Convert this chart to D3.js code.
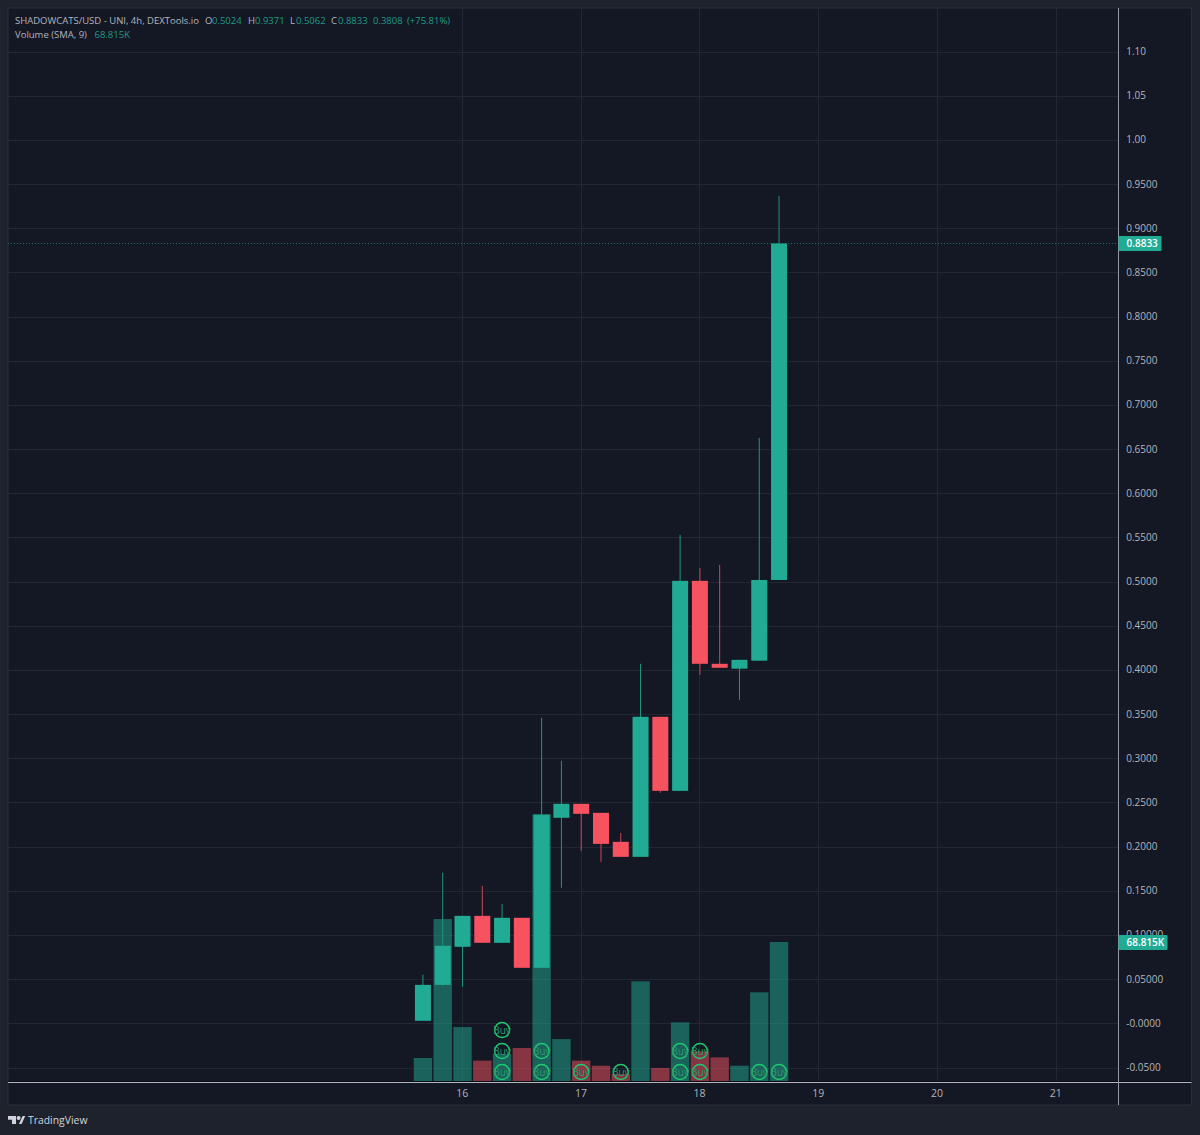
<!DOCTYPE html>
<html><head><meta charset="utf-8">
<script src="https://cdn.jsdelivr.net/npm/d3@7"></script>
<style>html,body{margin:0;padding:0;background:#1e222d}svg{display:block}text{font-family:"Open Sans",sans-serif}</style>
</head><body><svg id="c" width="1200" height="1135"></svg>
<script>
const candleTimes=["15 16:00","15 20:00","16 00:00","16 04:00","16 08:00","16 12:00","16 16:00","16 20:00","17 00:00","17 04:00","17 08:00","17 12:00","17 16:00","17 20:00","18 00:00","18 04:00","18 08:00","18 12:00","18 16:00"];
const opens =[.0034,.0441,.0872,.1222,.0917,.1200,.0634,.2332,.2490,.2388,.2060,.1890,.3475,.2637,.5014,.4075,.4020,.4110,.5024];
const highs =[.0555,.1710,.1222,.1562,.1358,.1200,.3463,.2977,.2490,.2388,.2160,.4075,.3475,.5535,.5160,.5195,.4120,.6633,.9371];
const lows  =[.0034,.0430,.0419,.0917,.0917,.0634,.0634,.1540,.1958,.1834,.1890,.1890,.2615,.2637,.3950,.4030,.3667,.4110,.5024];
const closes=[.0441,.0883,.1222,.0917,.1200,.0634,.2366,.2490,.2377,.2037,.1890,.3475,.2637,.5014,.4075,.4030,.4120,.5024,.8833];
const volumes=[11.8,80.1,27.0,10.5,13.8,16.7,131.7,21.1,10.5,8.0,3.9,49.5,6.9,29.3,15.1,12.1,8.0,44.1,68.815];
const volumeUp=[1,1,1,0,1,0,1,1,0,0,0,1,0,1,0,0,1,1,1];
const buyCounts=[0,0,0,0,3,0,2,0,1,0,1,0,0,2,2,0,0,1,1];
const priceTicks=[1.10,1.05,1.00,.95,.90,.85,.80,.75,.70,.65,.60,.55,.50,.45,.40,.35,.30,.25,.20,.15,.10,.05,0,-.05];
const priceLabels=["1.10","1.05","1.00","0.9500","0.9000","0.8500","0.8000","0.7500","0.7000","0.6500","0.6000","0.5500","0.5000","0.4500","0.4000","0.3500","0.3000","0.2500","0.2000","0.1500","0.10000","0.05000","-0.0000","-0.0500"];
const dayTicks=[16,17,18,19,20,21];
const lastPrice=0.8833, lastVolume=68.815;
const headerTop=["SHADOWCATS/USD - UNI, 4h, DEXTools.io","O","0.5024","H","0.9371","L","0.5062","C","0.8833","0.3808","(+75.81%)"];
const headerTopValue=[0,0,1,0,1,0,1,0,1,1,1];

const UP="#22ab94",DOWN="#f7525f",UPW="#1f957f",DOWNW="#c9485a";
const svg=d3.select("#c");
const L=8,T=8,R=1191.5,B=1105,AX=1118.5,AY=1082.5;
const x=d3.scaleLinear().domain([16,21]).range([462.5,1056]);
const y=d3.scaleLinear().domain([-.05,1.10]).range([1068,52]);
const v=d3.scaleLinear().domain([0,lastVolume]).range([1082,942]);
const t=s=>{const [d,h]=s.split(" ");return +d+parseInt(h)/24;};
const crisp=p=>Math.floor(p)+.5;

svg.append("rect").attr("width",1200).attr("height",1135).attr("fill","#1e222d");
svg.append("rect").attr("x",L).attr("y",T).attr("width",R-L).attr("height",B-T).attr("fill","#141824").attr("stroke","#2a2e39");

// grid
const grid=svg.append("g").attr("stroke","#232732").attr("stroke-width",1).attr("shape-rendering","crispEdges");
grid.selectAll("line.h").data(priceTicks).join("line").attr("class","h").attr("x1",L).attr("x2",AX).attr("y1",d=>crisp(y(d))).attr("y2",d=>crisp(y(d)));
grid.selectAll("line.v").data(dayTicks).join("line").attr("class","v").attr("y1",T).attr("y2",AY).attr("x1",d=>crisp(x(d))).attr("x2",d=>crisp(x(d)));

// volume
const bw=18.4;
svg.append("g").selectAll("rect").data(volumes).join("rect")
 .attr("x",(d,i)=>x(t(candleTimes[i]))-bw/2).attr("width",bw)
 .attr("y",d=>v(d)).attr("height",d=>v(0)-v(d))
 .attr("fill",(d,i)=>volumeUp[i]?UP:DOWN).attr("fill-opacity",.5);

// dotted last price
svg.append("line").attr("x1",L).attr("x2",AX).attr("y1",crisp(y(lastPrice))).attr("y2",crisp(y(lastPrice)))
 .attr("stroke",UP).attr("stroke-dasharray","1 2").attr("opacity",.6);

// candles
const cw=16;
const cg=svg.append("g").selectAll("g").data(opens).join("g");
cg.append("line").attr("x1",(d,i)=>x(t(candleTimes[i]))).attr("x2",(d,i)=>x(t(candleTimes[i])))
 .attr("y1",(d,i)=>y(highs[i])).attr("y2",(d,i)=>y(lows[i]))
 .attr("stroke",(d,i)=>closes[i]>=opens[i]?UPW:DOWNW).attr("stroke-width",1);
cg.append("rect").attr("x",(d,i)=>x(t(candleTimes[i]))-cw/2).attr("width",cw)
 .attr("y",(d,i)=>y(Math.max(opens[i],closes[i])))
 .attr("height",(d,i)=>Math.max(3,Math.abs(y(opens[i])-y(closes[i]))))
 .attr("fill",(d,i)=>closes[i]>=opens[i]?UP:DOWN);

// buy markers
const rows=[1072,1051,1030];
buyCounts.forEach((n,i)=>{for(let k=0;k<n;k++){
 const g=svg.append("g").attr("transform",`translate(${x(t(candleTimes[i]))},${rows[k]})`);
 g.append("circle").attr("r",7.5).attr("fill","none").attr("stroke","#1fc96f").attr("stroke-width",1.5);
 g.append("text").attr("text-anchor","middle").attr("y",3.6).attr("font-size",10).attr("fill","#2a9a68").text("Buy");
}});

// axes
svg.append("line").attr("x1",L).attr("x2",R).attr("y1",AY).attr("y2",AY).attr("stroke","#b2b5be").attr("stroke-width",1);
svg.append("line").attr("x1",L).attr("x2",R).attr("y1",AY-1).attr("y2",AY-1).attr("stroke","#0b0d14").attr("stroke-width",1);
svg.append("line").attr("x1",AX).attr("x2",AX).attr("y1",T).attr("y2",B).attr("stroke","#9598a1").attr("stroke-width",1);

const ay=svg.append("g").attr("transform",`translate(${AX},-0.8)`)
 .call(d3.axisRight(y).tickValues(priceTicks).tickSize(0).tickPadding(7.7).tickFormat((d,i)=>priceLabels[i]));
ay.select(".domain").remove();
ay.selectAll("text").attr("fill","#b2b5be").attr("font-size",10).attr("dy","0.33em").style("font-family",'"Open Sans",sans-serif');
const ax=svg.append("g").attr("transform",`translate(-0.8,${AY})`)
 .call(d3.axisBottom(x).tickValues(dayTicks).tickSize(0).tickPadding(7).tickFormat(d3.format("d")));
ax.select(".domain").remove();
ax.selectAll("text").attr("fill","#b2b5be").attr("font-size",10.5).style("font-family",'"Open Sans",sans-serif');

// last value labels
function tag(yy,w,str){
 svg.append("rect").attr("x",AX).attr("y",yy-7.5).attr("width",w).attr("height",15).attr("rx",1).attr("fill",UP);
 svg.append("text").attr("x",AX+8).attr("y",yy+3.6).attr("font-size",10).attr("font-weight",600).attr("fill","#fff").text(str);
}
tag(crisp(y(lastPrice)),43,"0.8833");
tag(v(lastVolume)+.5,49,"68.815K");

// header
const headerX=[15,205,212,248,255,290,296,331,338,373,407];
svg.append("g").selectAll("text").data(headerTop).join("text")
 .attr("x",(d,i)=>headerX[i]).attr("y",24).attr("font-size",9.5)
 .attr("fill",(d,i)=>headerTopValue[i]?"#1f9a85":"#b2b5be").text(d=>d);
svg.append("text").attr("x",15).attr("y",38.3).attr("font-size",9.5).attr("fill","#b2b5be").text("Volume (SMA, 9)");
svg.append("text").attr("x",94.5).attr("y",38.3).attr("font-size",9.5).attr("fill","#1f9a85").text("68.815K");

// logo
const lg=svg.append("g").attr("fill","#d1d4dc");
lg.append("path").attr("d","M8 1116h8v8h-4v-4.2h-4z");
lg.append("circle").attr("cx",18.6).attr("cy",1118).attr("r",2);
lg.append("path").attr("d","M19 1124l3.6-8h2.6l-3.6 8z");
svg.append("text").attr("x",28).attr("y",1124.3).attr("font-size",10.4).attr("fill","#d1d4dc").text("TradingView");
</script></body></html>
